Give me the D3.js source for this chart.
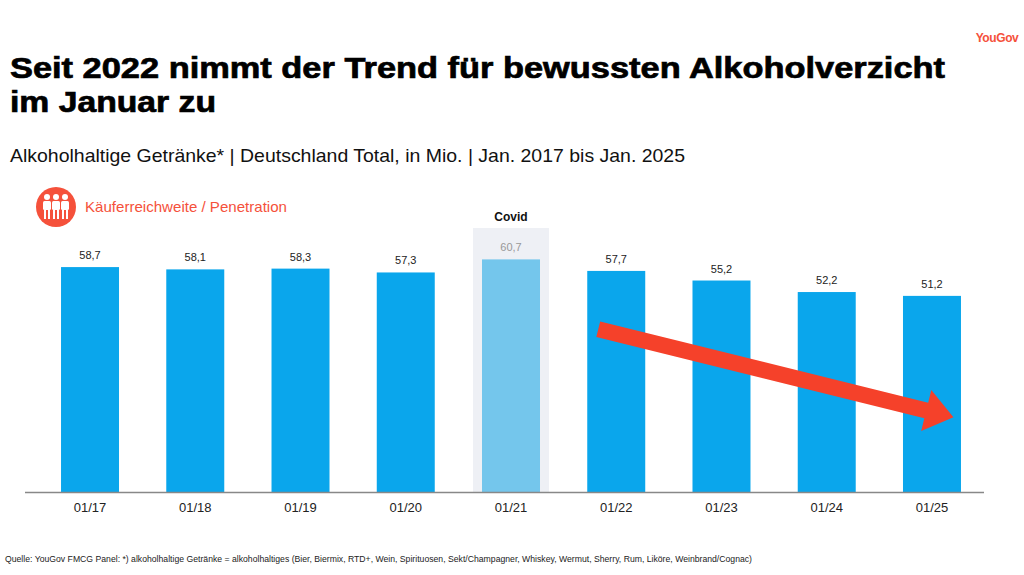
<!DOCTYPE html>
<html>
<head>
<meta charset="utf-8">
<script src="https://cdn.jsdelivr.net/npm/d3@7"></script>
<style>
  body { margin: 0; background: #fff; }
  svg { display: block; font-family: "Liberation Sans", Arial, sans-serif; }
</style>
</head>
<body>
<svg id="chart" width="1024" height="575"></svg>
<script>
'use strict';

// data
var months = ['01/17', '01/18', '01/19', '01/20', '01/21', '01/22', '01/23', '01/24', '01/25'];
var buyers = [58.7, 58.1, 58.3, 57.3, 60.7, 57.7, 55.2, 52.2, 51.2];
var highlight = ['01/21'];
var highlightLabel = 'Covid';

var svg = d3.select('#chart');
var fmt = function (v) { return d3.format('.1f')(v).replace('.', ','); };

var x = d3.scaleBand().domain(months).range([37.4, 984.6]).paddingInner(0.449).paddingOuter(0.2245);
var y = d3.scaleLinear().domain([0, 60.7]).range([492.5, 259.4]);

// titles
svg.append('text').attr('x', 997).attr('y', 42).attr('text-anchor', 'middle')
  .style('font-size', '12px').style('font-weight', 'bold').style('fill', '#f5513b').style('letter-spacing', '-0.4px')
  .text('YouGov');

var title = svg.append('g')
  .style('font-size', '29px').style('font-weight', 'bold').style('fill', '#000')
  .style('stroke', '#000').style('stroke-width', '0.7px');
title.append('text').attr('x', 10).attr('y', 78)
  .attr('textLength', 935).attr('lengthAdjust', 'spacingAndGlyphs')
  .text('Seit 2022 nimmt der Trend für bewussten Alkoholverzicht');
title.append('text').attr('x', 10).attr('y', 112)
  .attr('textLength', 206).attr('lengthAdjust', 'spacingAndGlyphs')
  .text('im Januar zu');

svg.append('text').attr('x', 10).attr('y', 162)
  .attr('textLength', 675).attr('lengthAdjust', 'spacingAndGlyphs')
  .style('font-size', '18.5px').style('fill', '#111')
  .text('Alkoholhaltige Getränke* | Deutschland Total, in Mio. | Jan. 2017 bis Jan. 2025');

// legend icon
var icon = svg.append('g').attr('transform', 'translate(56,207)');
icon.append('circle').attr('r', 20).style('fill', '#f5513b');
[-9, 0, 9].forEach(function (dx) {
  var p = icon.append('g').attr('transform', 'translate(' + dx + ',0)');
  p.append('circle').attr('cy', -10).attr('r', 3).style('fill', '#fff');
  p.append('rect').attr('x', -4).attr('y', -6).attr('width', 8).attr('height', 9).attr('rx', 1.5).style('fill', '#fff');
  p.append('rect').attr('x', -3).attr('y', 3).attr('width', 2).attr('height', 9).style('fill', '#fff');
  p.append('rect').attr('x', 1).attr('y', 3).attr('width', 2).attr('height', 9).style('fill', '#fff');
});
svg.append('text').attr('x', 85).attr('y', 212)
  .attr('textLength', 202).attr('lengthAdjust', 'spacingAndGlyphs')
  .style('font-size', '15px').style('fill', '#f5513b')
  .text('Käuferreichweite / Penetration');

// covid shading
var pad = 9;
highlight.forEach(function (m) {
  svg.append('rect')
    .attr('x', x(m) - pad).attr('y', 228)
    .attr('width', x.bandwidth() + 2 * pad).attr('height', y(0) - 228)
    .style('fill', '#eef0f5');
  svg.append('text').attr('x', x(m) + x.bandwidth() / 2).attr('y', 221)
    .attr('text-anchor', 'middle').style('font-size', '12px').style('font-weight', 'bold').style('fill', '#111')
    .text(highlightLabel);
});

// bars
var isHi = function (m) { return highlight.indexOf(m) >= 0; };
svg.append('g').selectAll('rect').data(months).join('rect')
  .attr('x', function (d) { return x(d); })
  .attr('y', function (d, i) { return y(buyers[i]); })
  .attr('width', x.bandwidth())
  .attr('height', function (d, i) { return y(0) - y(buyers[i]); })
  .style('fill', function (d) { return isHi(d) ? '#74c6ec' : '#0aa6ec'; });

svg.append('g').selectAll('text').data(months).join('text')
  .attr('x', function (d) { return x(d) + x.bandwidth() / 2; })
  .attr('y', function (d, i) { return y(buyers[i]) - 8; })
  .attr('text-anchor', 'middle')
  .style('font-size', '11px')
  .style('fill', function (d) { return isHi(d) ? '#999' : '#222'; })
  .text(function (d, i) { return fmt(buyers[i]); });

// axis
svg.append('line').attr('x1', 25).attr('x2', 984).attr('y1', y(0)).attr('y2', y(0))
  .style('stroke', '#888').style('stroke-width', 1.5);
svg.append('g').selectAll('text').data(months).join('text')
  .attr('x', function (d) { return x(d) + x.bandwidth() / 2; })
  .attr('y', 512)
  .attr('text-anchor', 'middle')
  .style('font-size', '13px').style('fill', '#222')
  .text(function (d) { return d; });

// trend arrow (annotation)
var from = [x('01/22') + 11, y(42.5)];
var to = [x('01/25') + x.bandwidth() * 0.87, y(19.6)];
var ang = Math.atan2(to[1] - from[1], to[0] - from[0]);
var half = 8, headHalf = 21, headLen = 28;
function pt(along, across) {
  return [from[0] + Math.cos(ang) * along - Math.sin(ang) * across,
          from[1] + Math.sin(ang) * along + Math.cos(ang) * across];
}
var len = Math.hypot(to[0] - from[0], to[1] - from[1]);
var arrowPts = [pt(0, -half), pt(len - headLen, -half), pt(len - headLen, -headHalf), pt(len, 0),
                pt(len - headLen, headHalf), pt(len - headLen, half), pt(0, half)];
svg.append('polygon').attr('points', arrowPts.map(function (p) { return p.join(','); }).join(' '))
  .style('fill', '#f5412a');

// footnote
svg.append('text').attr('x', 5).attr('y', 562)
  .attr('textLength', 747).attr('lengthAdjust', 'spacingAndGlyphs')
  .style('font-size', '9px').style('fill', '#222')
  .text('Quelle: YouGov FMCG Panel: *) alkoholhaltige Getränke = alkoholhaltiges (Bier, Biermix, RTD+, Wein, Spirituosen, Sekt/Champagner, Whiskey, Wermut, Sherry, Rum, Liköre, Weinbrand/Cognac)');
</script>
</body>
</html>
